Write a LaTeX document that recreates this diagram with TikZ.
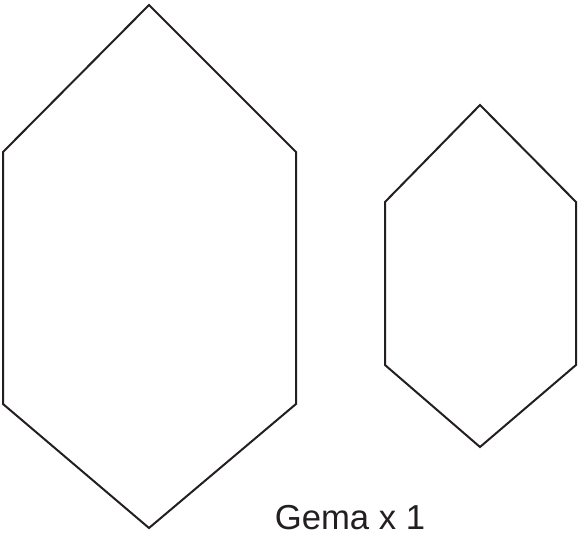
\documentclass[tikz,border=0pt]{standalone}
\usepackage{fontspec}
\setmainfont{Liberation Sans}
\definecolor{ink}{HTML}{231F20}
\begin{document}
\begin{tikzpicture}[x=0.75pt,y=-0.75pt,
  hexline/.style={draw=ink,line width=1.5pt,line join=miter},
  lbl/.style={text=ink,font=\fontsize{26}{28}\selectfont,inner sep=0pt,text depth=0pt,anchor=base}]
\useasboundingbox (0,0) rectangle (579,534);
% large hexagon
\coordinate (a1) at (149,5);
\coordinate (a2) at (296,152);
\coordinate (a3) at (296,404);
\coordinate (a4) at (149,528);
\coordinate (a5) at (3,404);
\coordinate (a6) at (3,152);
\draw[hexline] (a1) -- (a2) -- (a3) -- (a4) -- (a5) -- (a6) -- cycle;
% small hexagon
\coordinate (b1) at (480,105);
\coordinate (b2) at (576,202);
\coordinate (b3) at (576,365);
\coordinate (b4) at (480,447);
\coordinate (b5) at (385,365);
\coordinate (b6) at (385,202);
\draw[hexline] (b1) -- (b2) -- (b3) -- (b4) -- (b5) -- (b6) -- cycle;
\node[lbl] (t) at (350,530) {Gema x 1};
\end{tikzpicture}
\end{document}
